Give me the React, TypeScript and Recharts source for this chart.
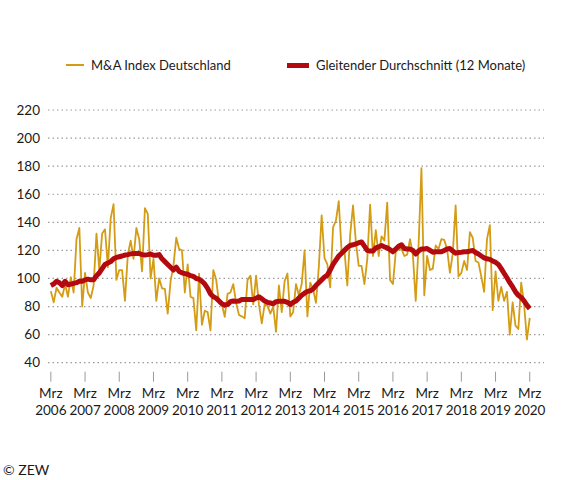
import { LineChart, Line, XAxis, YAxis, CartesianGrid, Legend } from "recharts";

// Monatswerte März 2006 bis März 2020
const maIndex = [
  91, 83, 93.5, 90, 87, 96, 87, 101, 90, 128, 136, 80,
  104, 90, 86, 95, 132, 106, 132, 135, 108, 143, 153, 99,
  106, 106, 84, 117, 127, 114, 136, 128, 105, 150, 146, 100,
  114, 84, 100, 93, 92.5, 75, 98, 109, 129, 121, 120, 90,
  110, 87, 86, 63, 103.5, 67, 77, 76, 63, 106, 99, 82.6,
  81.5, 72.7, 89, 90, 96, 82.6, 74, 73, 71.6, 99, 102, 81.5,
  102, 81.5, 68, 81.5, 80.5, 75, 80, 62, 95, 76, 98, 103.5,
  73, 76, 96, 88, 96, 120, 73, 97, 92.5, 82.6, 108, 145,
  114.5, 110, 93.6, 136.5, 141, 155, 119, 120, 95, 131, 152, 126,
  109, 109, 96, 113.6, 152.5, 116, 134.5, 116, 130, 127, 154, 99,
  96, 119, 121, 121, 116, 117, 128, 117, 84, 123.5, 178.5, 88,
  116, 106, 107, 123.5, 121, 128, 127.5, 121, 104, 118, 152, 101.5,
  104, 112.5, 106, 133, 129, 112.5, 111.4, 101.5, 90.5, 128, 138, 77.4,
  105, 84, 94, 84, 90.5, 60, 83, 66.4, 64, 97, 82, 56.5,
  72,
];

const movingAvg = [
  95, 96, 98, 97, 95, 98, 95.5, 96, 96.5, 97, 98, 98,
  99, 99.5, 99, 99, 102, 104, 107, 110, 111, 112, 114, 115,
  115.5, 116, 116.7, 117, 117.5, 117.8, 117.8, 117.8, 117, 116.7, 117, 117.4,
  116.5, 116.5, 117, 114, 112, 110, 108, 106, 108, 105, 104, 103.5,
  103, 102, 101.5, 100, 99.5, 98, 96, 93, 89, 87, 86, 84,
  82, 81, 81.5, 83.5, 84, 83.7, 84, 85, 85, 85, 85, 85,
  86, 87, 85.5, 84, 83, 82.5, 82, 83.5, 83.7, 83.7, 83.7, 83,
  81.5, 83, 84, 86, 88, 89.5, 90.8, 91.2, 92.5, 95, 97, 99,
  101, 102.4, 106, 110, 113, 116, 118, 120, 122, 123.5, 124, 124.6,
  125.5, 126, 123, 120, 119.5, 119.6, 121.8, 122.5, 123.5, 122.5, 121.8, 120.5,
  119, 121, 123, 124, 121.3, 121, 121, 120, 117.4, 119.5, 121, 121,
  121.3, 120, 118.7, 119, 119, 119, 120, 121, 121.3, 119.5, 118, 118.5,
  118.7, 119, 119, 119.5, 120, 118.5, 117.4, 116, 114.7, 114, 113.6, 112.5,
  111.5, 110, 107, 103.7, 100.5, 97, 94, 90.5, 88, 86.5, 84, 81,
  78.5,
];

const years = [
  "2006", "2007", "2008", "2009", "2010", "2011", "2012", "2013",
  "2014", "2015", "2016", "2017", "2018", "2019", "2020",
];
const yTicks = [40, 60, 80, 100, 120, 140, 160, 180, 200, 220];

const YELLOW = "#D49C14";
const RED = "#B20A0E";
const FONT = "Lato, 'Noto Sans', sans-serif";

const data = maIndex.map((v, i) => ({ i, index: v, avg: movingAvg[i] }));
const xTicks = years.map((_, k) => k * 12);

function MonthTick(props: any) {
  const { x, y, payload } = props;
  const year = years[Math.round(payload.value / 12)];
  return (
    <g>
      <line x1={x} x2={x} y1={y + 9} y2={y + 19} stroke="#9a9a9a" strokeWidth={1} />
      <text x={x} y={y + 35} textAnchor="middle" fontSize={13.5} fill="#1a1a1a" fontFamily={FONT}>
        Mrz
      </text>
      <text x={x} y={y + 52} textAnchor="middle" fontSize={13.5} fill="#1a1a1a" fontFamily={FONT}>
        {year}
      </text>
    </g>
  );
}

function LegendContent() {
  const item = { display: "flex", alignItems: "center", fontSize: 13, color: "#1a1a1a" };
  return (
    <div style={{ position: "relative", height: 20, fontFamily: FONT }}>
      <div style={{ ...item, position: "absolute", left: 66 }}>
        <span style={{ width: 18, height: 2, background: YELLOW, marginRight: 7 }} />
        M&amp;A Index Deutschland
      </div>
      <div style={{ ...item, position: "absolute", left: 287 }}>
        <span style={{ width: 22, height: 5, background: RED, marginRight: 7 }} />
        Gleitender Durchschnitt (12 Monate)
      </div>
    </div>
  );
}

export default function App() {
  return (
    <div style={{ position: "absolute", left: 0, top: 0, width: 570, height: 480, background: "#fff" }}>
      <LineChart width={570} height={480} data={data} margin={{ top: 90, right: 26, bottom: 57.3, left: 0 }}>
        <CartesianGrid vertical={false} stroke="#9a9a9a" strokeDasharray="1.5 3" strokeWidth={1.2} />
        <XAxis
          type="number"
          dataKey="i"
          domain={[-1, 173]}
          ticks={xTicks}
          interval={0}
          height={60}
          axisLine={false}
          tickLine={false}
          tickSize={0}
          tickMargin={0}
          tick={<MonthTick />}
        />
        <YAxis
          type="number"
          domain={[40, 220]}
          ticks={yTicks}
          interval={0}
          width={48}
          axisLine={false}
          tickLine={false}
          tick={{ fill: "#1a1a1a", fontSize: 13.5, fontFamily: FONT }}
        />
        <Legend verticalAlign="top" content={<LegendContent />} wrapperStyle={{ top: 57, left: 0, width: 570 }} />
        <Line type="linear" dataKey="index" stroke={YELLOW} strokeWidth={1.8} dot={false} isAnimationActive={false} strokeLinejoin="round" />
        <Line type="linear" dataKey="avg" stroke={RED} strokeWidth={5} dot={false} isAnimationActive={false} strokeLinejoin="round" />
      </LineChart>
      <div style={{ position: "absolute", left: 3, top: 461, fontSize: 14, fontFamily: FONT, color: "#1a1a1a" }}>
        © ZEW
      </div>
    </div>
  );
}
